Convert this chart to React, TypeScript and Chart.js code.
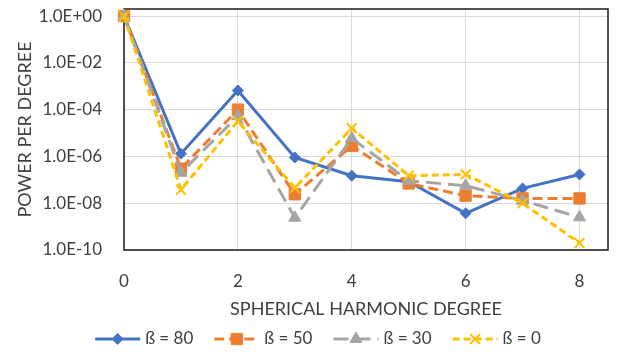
import React, { useEffect, useRef } from 'react';
import { Chart, registerables } from 'chart.js';
import { drawPoint } from 'chart.js/helpers';

Chart.register(...registerables);

const degrees = [0, 1, 2, 3, 4, 5, 6, 7, 8];
const beta80 = [1, 1.3e-6, 6.6e-4, 9e-7, 1.5e-7, 8.3e-8, 3.7e-9, 4.3e-8, 1.7e-7];
const beta50 = [1, 3e-7, 1e-4, 2.4e-8, 2.8e-6, 7e-8, 2.1e-8, 1.6e-8, 1.6e-8];
const beta30 = [1, 2e-7, 5.3e-5, 2.4e-9, 6e-6, 9e-8, 5.6e-8, 1.3e-8, 2.5e-9];
const beta0 = [1, 3.8e-8, 3.2e-5, 4.5e-8, 1.6e-5, 1.5e-7, 1.7e-7, 1e-8, 2e-10];

const seriesLabels = ['ß = 80', 'ß = 50', 'ß = 30', 'ß = 0'];
const seriesValues = [beta80, beta50, beta30, beta0];

const yTickValues = [1e-10, 1e-8, 1e-6, 1e-4, 1e-2, 1];
const yTickLabels = ['1.0E-10', '1.0E-08', '1.0E-06', '1.0E-04', '1.0E-02', '1.0E+00'];
const xTickValues = [0, 2, 4, 6, 8];

const xTitle = 'SPHERICAL HARMONIC DEGREE';
const yTitle = 'POWER PER DEGREE';

const FONT = 'Lato, "Noto Sans", sans-serif';
const TEXT = '#404040';

const styles = [
  { color: '#4472C4', dash: [] as number[], pointStyle: 'rectRot', radius: 5.5, bw: 1 },
  { color: '#ED7D31', dash: [10, 5], pointStyle: 'rect', radius: 8, bw: 1 },
  { color: '#A5A5A5', dash: [15, 7], pointStyle: 'triangle', radius: 7, bw: 1 },
  { color: '#FFC000', dash: [7, 4], pointStyle: 'crossRot', radius: 7, bw: 2 },
];

const framePlugin = {
  id: 'frame',
  beforeDatasetsDraw(chart: any) {
    const { ctx, chartArea } = chart;
    ctx.save();
    ctx.strokeStyle = '#1a1a1a';
    ctx.lineWidth = 1.5;
    ctx.strokeRect(chartArea.left, chartArea.top, chartArea.right - chartArea.left, chartArea.bottom - chartArea.top);
    ctx.restore();
  },
};

const legendPlugin = {
  id: 'customLegend',
  afterDraw(chart: any) {
    const ctx = chart.ctx;
    ctx.save();
    ctx.font = `17px ${FONT}`;
    const lineLen = 45;
    const textGap = 5;
    const itemGap = 21;
    const widths = seriesLabels.map((l) => lineLen + textGap + ctx.measureText(l).width);
    const total = widths.reduce((a, b) => a + b, 0) + itemGap * (widths.length - 1);
    let x = 318 - total / 2;
    const y = 339;
    seriesLabels.forEach((label, i) => {
      const s = styles[i];
      ctx.strokeStyle = s.color;
      ctx.lineWidth = 3;
      ctx.setLineDash(s.dash);
      ctx.beginPath();
      ctx.moveTo(x, y);
      ctx.lineTo(x + lineLen, y);
      ctx.stroke();
      ctx.setLineDash([]);
      ctx.fillStyle = s.color;
      ctx.strokeStyle = s.color;
      ctx.lineWidth = s.bw;
      drawPoint(ctx, { pointStyle: s.pointStyle as any, rotation: 0, radius: s.radius, borderWidth: s.bw }, x + lineLen / 2, y);
      ctx.fillStyle = TEXT;
      ctx.textBaseline = 'middle';
      ctx.textAlign = 'left';
      ctx.fillText(label, x + lineLen + textGap, y);
      x += widths[i] + itemGap;
    });
    ctx.restore();
  },
};

export default function App() {
  const ref = useRef<HTMLCanvasElement>(null);
  useEffect(() => {
    document.body.style.margin = '0';
    const canvas = ref.current!;
    const chart = new Chart(canvas, {
      type: 'line',
      data: {
        datasets: seriesLabels.map((label, i) => ({
          label,
          data: degrees.map((d, j) => ({ x: d, y: seriesValues[i][j] })),
          borderColor: styles[i].color,
          backgroundColor: styles[i].color,
          borderWidth: 3,
          borderDash: styles[i].dash,
          pointStyle: styles[i].pointStyle as any,
          pointRadius: styles[i].radius,
          pointHoverRadius: styles[i].radius,
          pointBorderWidth: styles[i].bw,
          pointBackgroundColor: styles[i].color,
          pointBorderColor: styles[i].color,
          tension: 0,
          fill: false,
          clip: false as any,
          order: 4 - i,
        })),
      },
      options: {
        responsive: false,
        animation: false,
        devicePixelRatio: 1,
        layout: { padding: { top: 7, right: 10, bottom: 0, left: 0 } },
        plugins: { legend: { display: false }, tooltip: { enabled: false } },
        scales: {
          x: {
            type: 'linear',
            min: 0,
            max: 8.5,
            afterBuildTicks: (scale: any) => {
              scale.ticks = xTickValues.map((v) => ({ value: v }));
            },
            afterFit: (scale: any) => {
              scale.height = 104;
              scale.paddingLeft = 0;
              scale.paddingRight = 0;
            },
            grid: { color: '#D9D9D9', lineWidth: 1, drawTicks: false },
            border: { display: false },
            ticks: {
              padding: 21,
              color: TEXT,
              font: { family: FONT, size: 17 },
              maxRotation: 0,
              autoSkip: false,
            },
            title: {
              display: true,
              text: xTitle,
              color: TEXT,
              font: { family: FONT, size: 18 },
              padding: { top: 0, bottom: 34 },
            },
          },
          y: {
            type: 'logarithmic',
            min: 1e-10,
            max: 2,
            afterBuildTicks: (scale: any) => {
              scale.ticks = yTickValues.map((v) => ({ value: v }));
            },
            afterFit: (scale: any) => {
              scale.width = 124;
              scale.paddingTop = 0;
              scale.paddingBottom = 0;
            },
            grid: { color: '#D9D9D9', lineWidth: 1, drawTicks: false },
            border: { display: false },
            ticks: {
              padding: 22,
              color: TEXT,
              font: { family: FONT, size: 17 },
              autoSkip: false,
              callback: (v: any) => {
                const idx = yTickValues.findIndex((t) => Math.abs(Math.log10(t) - Math.log10(Number(v))) < 1e-6);
                return idx >= 0 ? yTickLabels[idx] : '';
              },
            },
            title: {
              display: true,
              text: yTitle,
              color: TEXT,
              font: { family: FONT, size: 18 },
              padding: { top: 14, bottom: 0 },
            },
          },
        },
      },
      plugins: [framePlugin, legendPlugin],
    });
    return () => chart.destroy();
  }, []);
  return <canvas ref={ref} width={618} height={354} style={{ display: 'block' }} />;
}
